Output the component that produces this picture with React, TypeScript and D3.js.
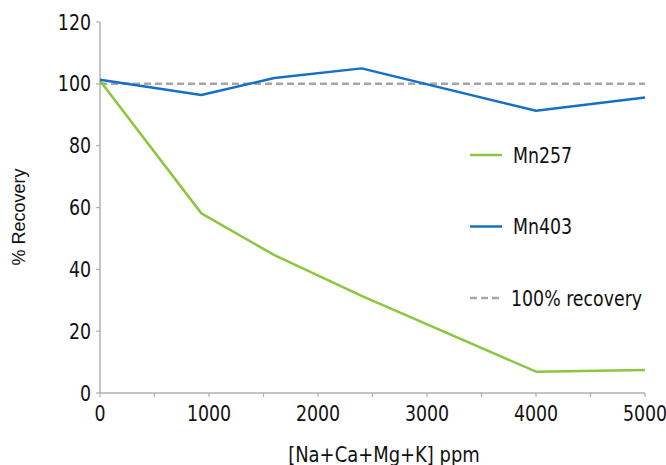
import React from "react";
import * as d3 from "d3";

const xValues = [0, 930, 1600, 2400, 4000, 5000];
const mn257 = [101, 58.1, 44.6, 31.4, 6.9, 7.4];
const mn403 = [101.3, 96.4, 101.9, 105, 91.3, 95.6];
const refValues = [100, 100];
const refX = [0, 5000];
const xTickLabels = [0, 1000, 2000, 3000, 4000, 5000];
const xMinorTicks = [0, 500, 1000, 1500, 2000, 2500, 3000, 3500, 4000, 4500, 5000];
const yTickLabels = [0, 20, 40, 60, 80, 100, 120];
const legendItems = [
  { label: "Mn257", color: "#8cc63f", dash: "" },
  { label: "Mn403", color: "#1570c4", dash: "" },
  { label: "100% recovery", color: "#a6a6a6", dash: "7 4" },
];

const W = 666;
const H = 465;
const margin = { left: 100, right: 21, top: 22, bottom: 72 };
const condensed = "'Liberation Sans Narrow', 'Arial Narrow', 'DejaVu Sans Condensed', sans-serif";

function CText({
  x,
  y,
  anchor = "start",
  sx = 0.92,
  children,
}: {
  x: number;
  y: number;
  anchor?: string;
  sx?: number;
  children: React.ReactNode;
}) {
  return (
    <g transform={`translate(${x},${y}) scale(${sx},1)`}>
      <text
        x={0}
        y={0}
        textAnchor={anchor}
        fontFamily={condensed}
        fontStretch="condensed"
        fontSize={21}
        fill="#111"
      >
        {children}
      </text>
    </g>
  );
}

export default function App() {
  const x = d3.scaleLinear().domain([0, 5000]).range([margin.left, W - margin.right]);
  const y = d3.scaleLinear().domain([0, 120]).range([H - margin.bottom, margin.top]);
  const line = d3
    .line<[number, number]>()
    .x((d) => x(d[0]))
    .y((d) => y(d[1]));
  const pts = (vals: number[], xs: number[]) => vals.map((v, i) => [xs[i], v] as [number, number]);
  const axisColor = "#b0b0b0";
  const y0 = y(0);
  return (
    <svg
      width={W}
      height={H}
      style={{ position: "absolute", left: 0, top: 0, background: "#fff" }}
    >
      {/* axes */}
      <line x1={x(0)} x2={x(5000)} y1={y0} y2={y0} stroke={axisColor} strokeWidth={1.5} />
      <line x1={x(0)} x2={x(0)} y1={y(0)} y2={y(120)} stroke={axisColor} strokeWidth={1.5} />
      {xMinorTicks.map((t) => (
        <line key={"xt" + t} x1={x(t)} x2={x(t)} y1={y0} y2={y0 + 4} stroke={axisColor} strokeWidth={1.2} />
      ))}
      {yTickLabels.map((t) => (
        <line key={"yt" + t} x1={x(0) - 4} x2={x(0)} y1={y(t)} y2={y(t)} stroke={axisColor} strokeWidth={1.2} />
      ))}
      {xTickLabels.map((t) => (
        <CText key={"xl" + t} x={x(t)} y={y0 + 28} anchor="middle">
          {t}
        </CText>
      ))}
      {yTickLabels.map((t) => (
        <CText key={"yl" + t} x={x(0) - 9} y={y(t) + 7.5} anchor="end">
          {t}
        </CText>
      ))}
      {/* series */}
      <path d={line(pts(refValues, refX)) || ""} fill="none" stroke="#a6a6a6" strokeWidth={2.5} strokeDasharray="7 4" />
      <path d={line(pts(mn257, xValues)) || ""} fill="none" stroke="#8cc63f" strokeWidth={2.5} strokeLinejoin="round" />
      <path d={line(pts(mn403, xValues)) || ""} fill="none" stroke="#1570c4" strokeWidth={2.5} strokeLinejoin="round" />
      {/* legend */}
      {legendItems.map((item, i) => {
        const ly = 155 + i * 71.5;
        return (
          <g key={item.label}>
            <line x1={470} x2={502} y1={ly} y2={ly} stroke={item.color} strokeWidth={2.5} strokeDasharray={item.dash} />
            <CText x={i === 2 ? 511 : 513} y={ly + 7.5}>
              {item.label}
            </CText>
          </g>
        );
      })}
      {/* axis titles */}
      <CText x={384} y={462} anchor="middle" sx={0.95}>
        [Na+Ca+Mg+K] ppm
      </CText>
      <text
        transform={`translate(25, 217) rotate(-90)`}
        textAnchor="middle"
        fontFamily="'Liberation Sans', Arial, sans-serif"
        fontSize={18}
        fill="#111"
      >
        % Recovery
      </text>
    </svg>
  );
}
